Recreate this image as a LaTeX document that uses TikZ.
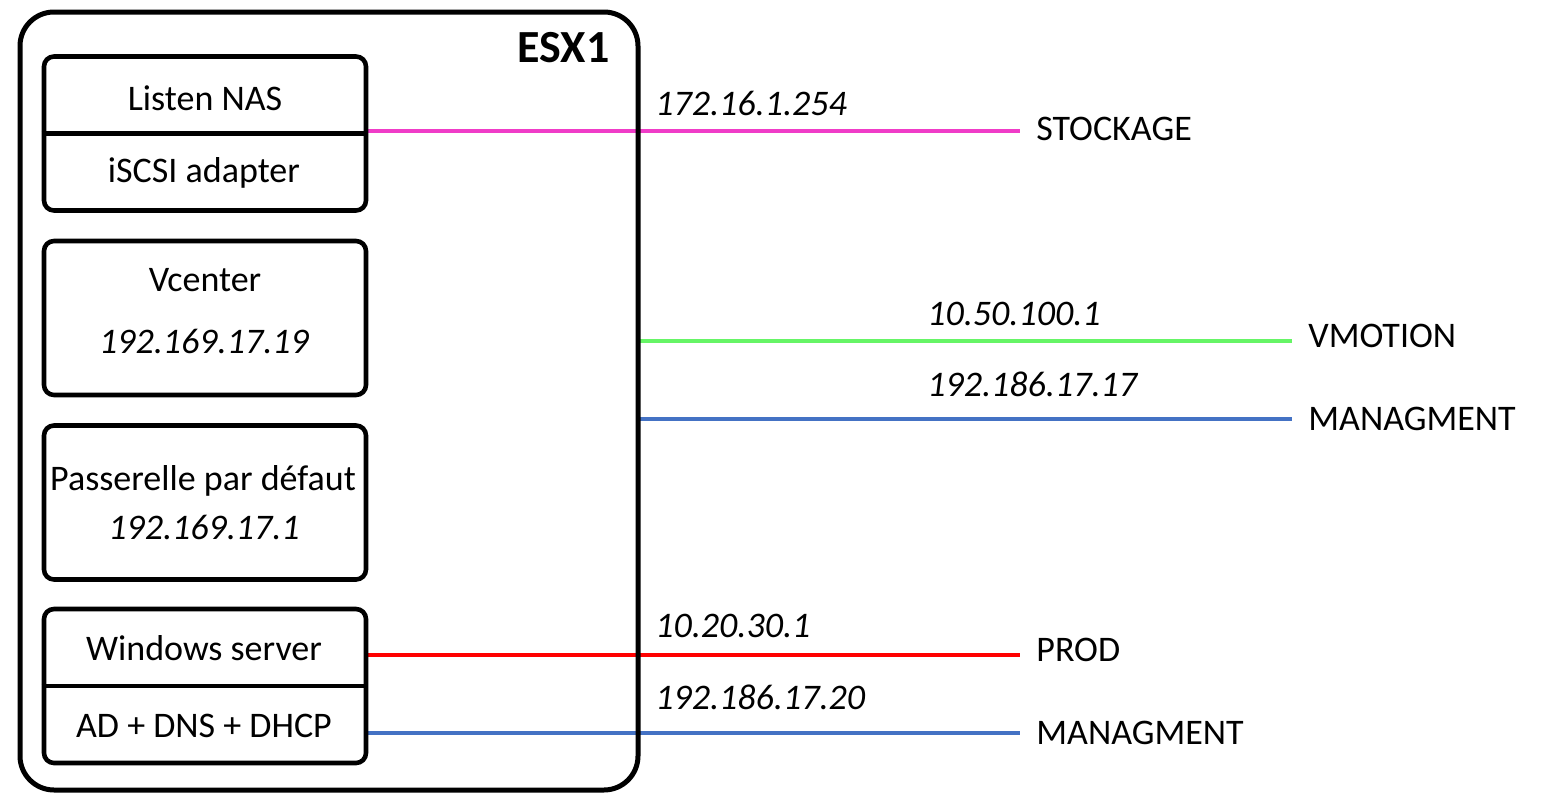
\documentclass[tikz,border=0pt]{standalone}
\usepackage{fontspec}
\setmainfont{Carlito}
\usepackage{tikz}
\usetikzlibrary{positioning,backgrounds}
\definecolor{stockpink}{RGB}{240,60,200}
\definecolor{vmgreen}{RGB}{102,245,102}
\definecolor{mgmtblue}{RGB}{68,114,196}
\definecolor{prodred}{RGB}{255,0,0}
\tikzset{font=\fontsize{18}{21}\selectfont}
\tikzstyle{esxbox}=[draw,line width=2.5pt,rounded corners=17pt,minimum width=309pt,minimum height=389pt]
\tikzstyle{vmbox}=[draw,line width=2.3pt,rounded corners=5pt,minimum width=161pt,minimum height=77pt]
\tikzstyle{txt}=[anchor=base,inner sep=0pt]
\tikzstyle{ip}=[anchor=base west,inner sep=0pt,font=\itshape\fontsize{18}{21}\selectfont]
\tikzstyle{net}=[anchor=base west,inner xsep=8pt,inner ysep=0pt]
\tikzstyle{wire}=[line width=2.1pt]

\begin{document}
\begin{tikzpicture}[x=0.5pt,y=-0.5pt]
\useasboundingbox (0,0) rectangle (1544,803);
\node[esxbox] (esx) at (329,401) {};
\node[anchor=base east,inner sep=0pt,font=\bfseries\fontsize{23}{27}\selectfont] (esxname) at (610,62) {ESX1};
% vm boxes
\node[vmbox] (nas) at (205,133.5) {};
\draw[line width=2.3pt] (nas.west) -- (nas.east);
\node[txt] (nastop) at (205,110) {Listen NAS};
\node[txt] (nasbot) at (204,182) {iSCSI adapter};
\node[vmbox] (vc) at (205,318) {};
\node[txt] (vcname) at (205,291) {Vcenter};
\node[txt,font=\itshape\fontsize{18}{21}\selectfont] (vcip) at (204,353) {192.169.17.19};
\node[vmbox] (gw) at (205,502.5) {};
\node[txt] (gwname) at (203,490) {Passerelle par défaut};
\node[txt,font=\itshape\fontsize{18}{21}\selectfont] (gwip) at (204,539) {192.169.17.1};
\node[vmbox] (win) at (205,686) {};
\draw[line width=2.3pt] (win.west) -- (win.east);
\node[txt] (wintop) at (204,660) {Windows server};
\node[txt] (winbot) at (204,737) {AD + DNS + DHCP};
% networks
\node[net] (stock) at (1020,140) {STOCKAGE};
\node[net] (vmot) at (1292,347) {VMOTION};
\node[net] (mgmt) at (1292,430) {MANAGMENT};
\node[net] (prod) at (1020,661) {PROD};
\node[net] (mgmtb) at (1020,744) {MANAGMENT};
\coordinate (stockL) at (367,131);
\coordinate (vmotL) at (640,341);
\coordinate (mgmtL) at (640,419);
\coordinate (prodL) at (367,655);
\coordinate (mgmtbL) at (367,733);
\begin{scope}[on background layer]
\draw[wire,stockpink] (stockL) -- (stockL -| stock.west);
\draw[wire,vmgreen] (vmotL) -- (vmotL -| vmot.west);
\draw[wire,mgmtblue] (mgmtL) -- (mgmtL -| mgmt.west);
\draw[wire,prodred] (prodL) -- (prodL -| prod.west);
\draw[wire,mgmtblue] (mgmtbL) -- (mgmtbL -| mgmtb.west);
\end{scope}
% addresses
\node[ip] (stockip) at (655,115) {172.16.1.254};
\node[ip] (vmotip) at (927,325) {10.50.100.1};
\node[ip] (mgmtip) at (927,396) {192.186.17.17};
\node[ip] (prodip) at (655,637) {10.20.30.1};
\node[ip] (mgmtbip) at (655,709) {192.186.17.20};
\end{tikzpicture}
\end{document}
